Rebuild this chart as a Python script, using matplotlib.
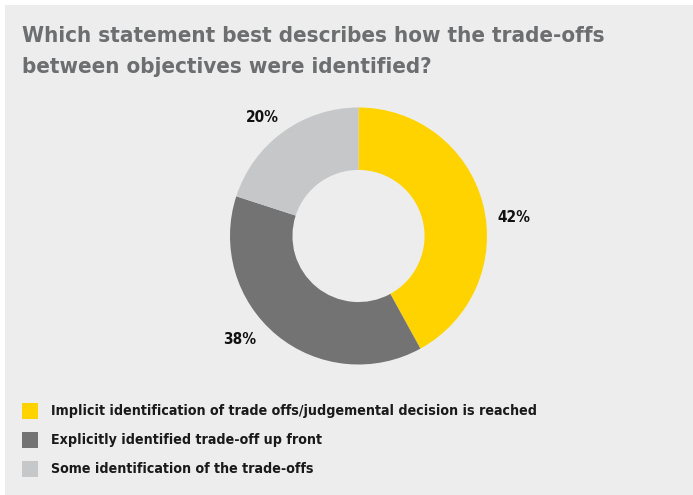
import matplotlib
matplotlib.use('Agg')
import matplotlib.pyplot as plt
from matplotlib import font_manager
from matplotlib.patches import Rectangle

# Data
categories = ['Implicit identification of trade offs/judgemental decision is reached',
              'Explicitly identified trade-off up front',
              'Some identification of the trade-offs']
values = [42, 38, 20]
colors = ['#FFD300', '#737373', '#C6C7C9']
title_lines = ['Which statement best describes how the trade-offs',
               'between objectives were identified?']

W, H = 693, 495
BG = '#ECEDEC'

avail = {f.name for f in font_manager.fontManager.ttflist}
FONT = 'Liberation Sans Narrow' if 'Liberation Sans Narrow' in avail else 'DejaVu Sans'
STRETCH = 'normal' if FONT == 'Liberation Sans Narrow' else 'condensed'

fig = plt.figure(figsize=(W / 100, H / 100), dpi=100, facecolor='white')
fig.patches.append(Rectangle((5 / W, 0), 1 - 5 / W, 1 - 5 / H, transform=fig.transFigure,
                             facecolor=BG, edgecolor='none', zorder=-5))

def px(x, y):
    return x / W, 1 - y / H

# title, one text per line
for i, line in enumerate(title_lines):
    fig.text(*px(22, 42 + 31 * i), line, fontsize=16, fontweight='bold', color='#6D6E70',
             family=FONT, stretch=STRETCH, va='baseline', ha='left')

# donut
cx, cy, r = 358.5, 236, 128.5
ax = fig.add_axes([(cx - r) / W, (H - cy - r) / H, 2 * r / W, 2 * r / H])
ax.pie(values, colors=colors, startangle=90, counterclock=False, radius=1,
       wedgeprops=dict(width=0.486, edgecolor='none'))
ax.set_xlim(-1, 1)
ax.set_ylim(-1, 1)
ax.axis('off')

label_pos = [(514, 218), (240, 339), (262, 118)]
for v, (x, y) in zip(values, label_pos):
    fig.text(*px(x, y), f'{v}%', fontsize=11, fontweight='bold', color='#111111',
             family=FONT, stretch=STRETCH, ha='center', va='center')

# legend
for i, (lab, c) in enumerate(zip(categories, colors)):
    yc = 411 + i * 29
    fig.patches.append(Rectangle(px(22, yc + 8), 16 / W, 16 / H, transform=fig.transFigure,
                                 facecolor=c, edgecolor='none', zorder=1))
    fig.text(*px(51, yc), lab, fontsize=10.2, fontweight='bold', color='#1A1A1A',
             family=FONT, stretch=STRETCH, ha='left', va='center')

fig.savefig('out.png', dpi=100, facecolor=fig.get_facecolor())
